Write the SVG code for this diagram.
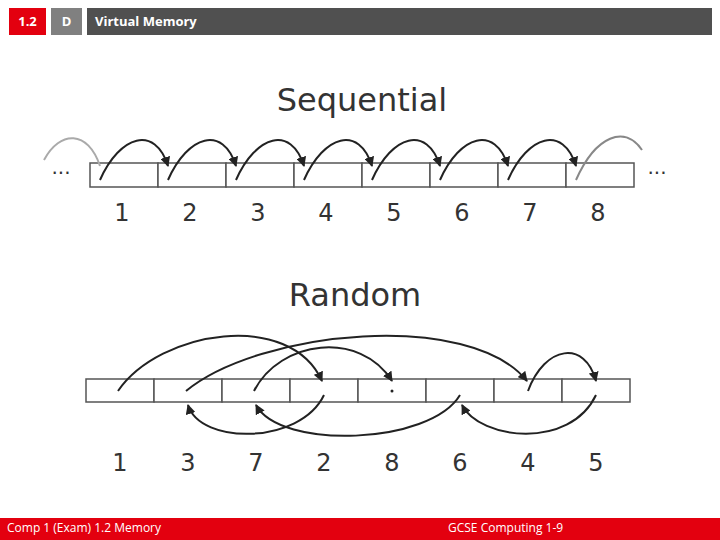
<svg xmlns="http://www.w3.org/2000/svg" width="720" height="540" viewBox="0 0 720 540">
<style>
.h{font-family:"Open Sans","DejaVu Sans",sans-serif;font-weight:bold;font-size:13px;fill:#fff}
.t{font-family:"DejaVu Sans",sans-serif;fill:#333}
.n{font-family:"DejaVu Sans",sans-serif;font-size:24px;fill:#333;text-anchor:middle}
.c{fill:#fff;stroke:#555;stroke-width:1.5}
.a{fill:none;stroke:#222;stroke-width:2;marker-end:url(#ar)}
.f{font-family:"Open Sans","DejaVu Sans",sans-serif;font-size:12px;fill:#fff}
</style>
<defs>
<marker id="ar" viewBox="0 0 10 10" refX="9" refY="5" markerWidth="5" markerHeight="5" orient="auto"><path d="M0,0L10,5L0,10z" fill="#222"/></marker>
</defs>
<rect width="720" height="540" fill="#fff"/>
<g id="header">
<rect x="9" y="8" width="37" height="27" fill="#e3000f"/>
<text class="h" x="27.5" y="26" text-anchor="middle">1.2</text>
<rect x="51" y="8" width="31" height="27" fill="#808080"/>
<text class="h" x="66.5" y="26" text-anchor="middle">D</text>
<rect x="87" y="8" width="625" height="27" fill="#505050"/>
<text class="h" x="95" y="26">Virtual Memory</text>
</g>
<g id="sequential">
<text class="t" x="362" y="111" font-size="32" text-anchor="middle">Sequential</text>
<text class="t" x="61" y="180" font-size="20" text-anchor="middle">···</text>
<text class="t" x="657" y="180" font-size="20" text-anchor="middle">···</text>
<g id="seqcells">
<rect class="c" x="90" y="163" width="68" height="24"/><rect class="c" x="158" y="163" width="68" height="24"/>
<rect class="c" x="226" y="163" width="68" height="24"/><rect class="c" x="294" y="163" width="68" height="24"/>
<rect class="c" x="362" y="163" width="68" height="24"/><rect class="c" x="430" y="163" width="68" height="24"/>
<rect class="c" x="498" y="163" width="68" height="24"/><rect class="c" x="566" y="163" width="68" height="24"/>
</g>
<g class="n">
<text x="122" y="221">1</text><text x="190" y="221">2</text><text x="258" y="221">3</text><text x="326" y="221">4</text>
<text x="394" y="221">5</text><text x="462" y="221">6</text><text x="530" y="221">7</text><text x="598" y="221">8</text>
</g>
</g>
<g id="random">
<text class="t" x="355" y="306" font-size="32" text-anchor="middle">Random</text>
<g id="randcells">
<rect class="c" x="86" y="379" width="68" height="23"/><rect class="c" x="154" y="379" width="68" height="23"/>
<rect class="c" x="222" y="379" width="68" height="23"/><rect class="c" x="290" y="379" width="68" height="23"/>
<rect class="c" x="358" y="379" width="68" height="23"/><rect class="c" x="426" y="379" width="68" height="23"/>
<rect class="c" x="494" y="379" width="68" height="23"/><rect class="c" x="562" y="379" width="68" height="23"/>
</g>
<circle cx="392" cy="391" r="1.5" fill="#222"/>
<g class="n">
<text x="120" y="471">1</text><text x="188" y="471">3</text><text x="256" y="471">7</text><text x="324" y="471">2</text>
<text x="392" y="471">8</text><text x="460" y="471">6</text><text x="528" y="471">4</text><text x="596" y="471">5</text>
</g>
</g>
<g id="connectors">
<path d="M44,160 C60,130 88,130 100,166" fill="none" stroke="#aaa" stroke-width="2"/>
<path class="a" d="M100,180 C120,135 155,125 168,166"/>
<path class="a" d="M168,180 C188,135 223,125 236,166"/>
<path class="a" d="M236,180 C256,135 291,125 304,166"/>
<path class="a" d="M304,180 C324,135 359,125 372,166"/>
<path class="a" d="M372,180 C392,135 427,125 440,166"/>
<path class="a" d="M440,180 C460,135 495,125 508,166"/>
<path class="a" d="M508,180 C528,135 563,125 576,166"/>
<path d="M576,180 C596,135 625,125 642,150" fill="none" stroke="#888" stroke-width="2"/>
<path class="a" d="M118,391 C160,330 290,310 322,381"/>
<path class="a" d="M254,391 C280,340 360,330 392,381"/>
<path class="a" d="M186,391 C260,330 470,310 527,381"/>
<path class="a" d="M528,391 C545,345 585,340 596,381"/>
<path class="a" d="M324,395 C300,445 200,445 188,405"/>
<path class="a" d="M460,395 C430,445 280,450 256,405"/>
<path class="a" d="M596,395 C570,450 480,440 462,405"/>
</g>
<g id="footer">
<rect x="0" y="518" width="720" height="22" fill="#e3000f"/>
<text class="f" x="7" y="532">Comp 1 (Exam) 1.2 Memory</text>
<text class="f" x="448" y="532">GCSE Computing 1-9</text>
</g>
</svg>
